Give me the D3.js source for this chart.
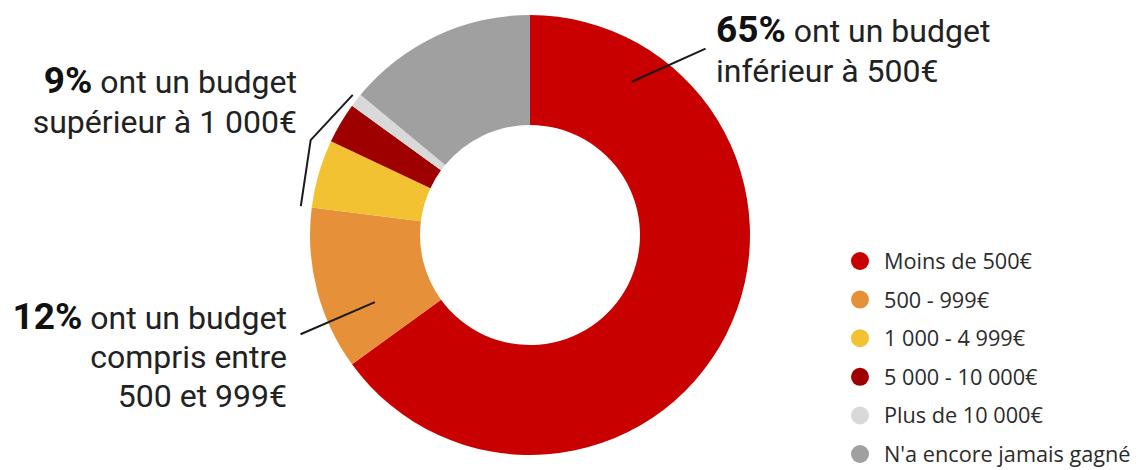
<!DOCTYPE html>
<html>
<head>
<meta charset="utf-8">
<script src="https://cdn.jsdelivr.net/npm/d3@7"></script>
<style>
  html, body { margin: 0; padding: 0; background: #ffffff; }
  svg { display: block; }
</style>
</head>
<body>
<svg id="chart" width="1136" height="470"></svg>
<script>
// ---- data ----
const categories = ["Moins de 500€", "500 - 999€", "1 000 - 4 999€", "5 000 - 10 000€", "Plus de 10 000€", "N'a encore jamais gagné"];
const values = [65, 12, 5, 3, 1, 14];
const colors = ["#c80000", "#e6913a", "#f2c232", "#9e0000", "#d9d9d9", "#a0a0a0"];

// callout texts: [bold part, rest of first line], further lines
const callout65 = ["65%", " ont un budget", "inférieur à 500€"];
const callout9 = ["9%", " ont un budget", "supérieur à 1 000€"];
const callout12 = ["12%", " ont un budget", "compris entre", "500 et 999€"];

// ---- layout ----
const cx = 530, cy = 235, rOuter = 220, rInner = 110;
const svg = d3.select("#chart");
const g = svg.append("g").attr("transform", `translate(${cx},${cy})`);

const pie = d3.pie().sort(null).value(d => d).startAngle(0).endAngle(2 * Math.PI);
const arcs = pie(values);
const arc = d3.arc().innerRadius(rInner).outerRadius(rOuter);

g.selectAll("path.slice")
  .data(arcs)
  .join("path")
  .attr("class", "slice")
  .attr("d", arc)
  .attr("fill", (d, i) => colors[i]);

// ---- leader lines ----
const deg = Math.PI / 180;
const line = d3.line();
const lineStyle = sel => sel.attr("fill", "none").attr("stroke", "#1a1a1a").attr("stroke-width", 2);

// 65% leader
g.append("path")
  .attr("d", line([d3.pointRadial(33.6 * deg, 184), d3.pointRadial(43.3 * deg, 256)]))
  .call(lineStyle);

// 12% leader (radial)
g.append("path")
  .attr("d", line([d3.pointRadial(246.6 * deg, 169), d3.pointRadial(246.6 * deg, 250)]))
  .call(lineStyle);

// 9% bracket along the three small slices
const a0 = arcs[2].startAngle, a1 = arcs[4].endAngle;
g.append("path")
  .attr("d", line([
    d3.pointRadial(a0, 231),
    d3.pointRadial((a0 + a1) / 2, 239),
    d3.pointRadial(a1 - 0.022, 226)
  ]))
  .call(lineStyle);

// ---- callout texts ----
const textFont = "Roboto, 'DejaVu Sans', sans-serif";
function callout(parts, x, y0, lh, anchor) {
  const t = svg.append("text")
    .attr("font-family", textFont)
    .attr("font-size", 32)
    .attr("fill", "#222222")
    .attr("text-anchor", anchor);
  t.append("tspan").attr("x", x).attr("y", y0).attr("font-weight", 700).attr("font-size", 37).attr("fill", "#111").text(parts[0]);
  t.append("tspan").attr("font-weight", 400).text(parts[1]);
  parts.slice(2).forEach((p, i) => {
    t.append("tspan").attr("x", x).attr("y", y0 + lh * (i + 1)).attr("font-weight", 400).text(p);
  });
}
callout(callout65, 716, 42, 40, "start");
callout(callout9, 297, 93, 40, "end");
callout(callout12, 287, 329, 39, "end");

// ---- legend ----
const legend = svg.append("g").attr("transform", "translate(860,261)");
const items = legend.selectAll("g.item")
  .data(categories)
  .join("g")
  .attr("class", "item")
  .attr("transform", (d, i) => `translate(0,${i * 38.6})`);
items.append("circle").attr("r", 9).attr("fill", (d, i) => colors[i]);
items.append("text")
  .attr("x", 24)
  .attr("y", 8)
  .attr("font-family", "'Open Sans', sans-serif")
  .attr("font-size", 21.7)
  .attr("fill", "#2b2b2b")
  .text(d => d);
</script>
</body>
</html>
